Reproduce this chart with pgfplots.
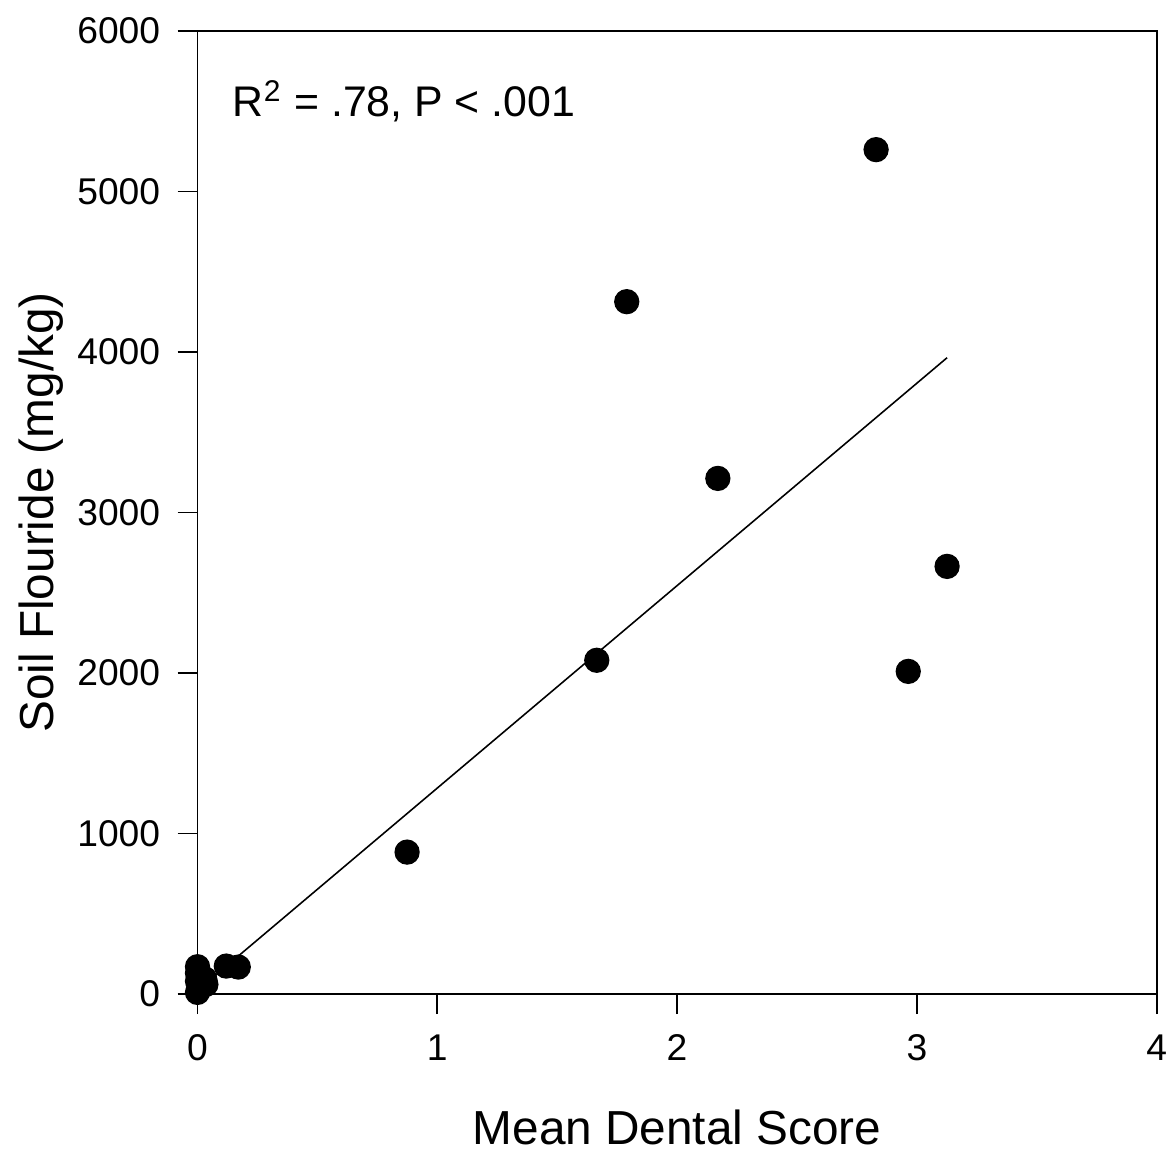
\documentclass[border={0.07cm 0cm 0.06cm 0.06cm}]{standalone}
\usepackage{pgfplots}
\pgfplotsset{compat=1.18}
\usepackage{fontspec}
\setmainfont{Liberation Sans}

\begin{document}
\begin{tikzpicture}
\begin{axis}[
    scale only axis,
    width=9.6cm,
    height=9.64cm,
    xmin=0, xmax=4,
    ymin=0, ymax=6000,
    xtick={0,1,2,3,4},
    ytick={0,1000,...,6000},
    xtick pos=left, ytick pos=left,
    tick align=outside,
    major tick length=0.2cm,
    axis line style={line width=0.5pt},
    tick style={line width=0.5pt, black},
    /pgf/number format/assume math mode=true,
    /pgf/number format/set thousands separator={},
    tick label style={font=\fontsize{10.6}{12}\selectfont},
    xticklabel style={yshift=-0.08cm, inner xsep=0pt},
    yticklabel style={xshift=-0.05cm},
    label style={font=\fontsize{13.6}{16}\selectfont},
    xlabel={Mean Dental Score},
    ylabel={Soil Flouride (mg/kg)},
    xlabel style={yshift=-0.25cm},
    ylabel style={yshift=-0.1cm},
    clip=false,
]
% regression line
\addplot[black, line width=0.45pt] coordinates {(0,22) (3.126,3964)};
% observations
\addplot[only marks, mark=*, mark size=3.4pt, mark options={fill=black, draw=black}] coordinates {
    (2.83,5260) (1.79,4313) (2.17,3212) (3.126,2664) (1.665,2079) (2.964,2010)
    (0.874,884) (0.12,174) (0.17,168)
    (0,170) (0,130) (0,80) (0,10) (0.03,95) (0.035,60)
};
\node[anchor=west, inner xsep=0pt, font=\fontsize{12.2}{14}\selectfont] at (axis cs:0.145,5560) {R\textsuperscript{2} = .78, P < .001};
\end{axis}
\end{tikzpicture}
\end{document}
